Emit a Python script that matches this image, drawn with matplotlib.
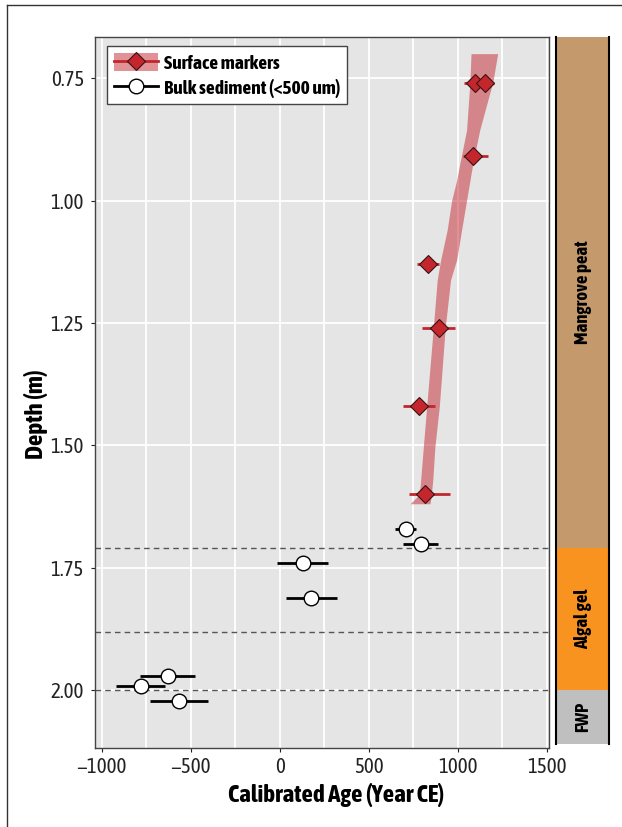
import matplotlib
matplotlib.use("Agg")
import matplotlib.pyplot as plt
from matplotlib import font_manager
from matplotlib.patches import Patch, Rectangle
from matplotlib.lines import Line2D
import numpy as np

# ---------------- data ----------------
# Surface markers (age, depth, error minus, error plus)
surf_age = [1097, 1153, 1088, 833, 893, 783, 818]
surf_depth = [0.759, 0.759, 0.909, 1.129, 1.261, 1.420, 1.600]
surf_err_lo = [62, 55, 60, 60, 92, 92, 92]
surf_err_hi = [55, 53, 84, 62, 92, 92, 137]

# Bulk sediment (<500 um)
bulk_age = [708, 792, 129, 178, -629, -781, -564]
bulk_depth = [1.671, 1.701, 1.740, 1.811, 1.971, 1.991, 2.021]
bulk_err = [58, 97, 143, 145, 155, 138, 163]

# Age-depth model ribbon
rib_depth = [0.700, 0.757, 0.856, 0.923, 0.959, 1.000, 1.060, 1.120, 1.162, 1.260, 1.420, 1.503, 1.571, 1.600, 1.619]
rib_lo = [1075, 1069, 1050, 1013, 994, 966, 941, 905, 885, 863, 826, 807, 792, 785, 732]
rib_hi = [1225, 1198, 1124, 1086, 1069, 1050, 1022, 995, 960, 930, 897, 872, 860, 852, 845]

# Horizontal dashed boundaries
boundaries = [1.71, 1.88, 2.00]

# Lithology units
units = ["Mangrove peat", "Algal gel", "FWP"]
unit_top = [0.665, 1.71, 2.00]
unit_bot = [1.71, 2.00, 2.11]
unit_colors = ["#c49a6c", "#f7931e", "#bfbfbf"]

x_ticks = [-1000, -500, 0, 500, 1000, 1500]
y_ticks = [0.75, 1.00, 1.25, 1.50, 1.75, 2.00]

# ---------------- fonts ----------------
names = {f.name for f in font_manager.fontManager.ttflist}
fam = "DejaVu Sans"
for cand in ["Asap Condensed", "Barlow Semi Condensed", "Cabin Condensed"]:
    if cand in names:
        fam = cand
        break
plt.rcParams["font.family"] = [fam, "DejaVu Sans"]

fig = plt.figure(figsize=(6.22, 8.27), dpi=100)
fig.patch.set_facecolor("white")

W, H = 622.0, 827.0
ax = fig.add_axes([95 / W, (H - 747.7) / H, (549.3 - 95) / W, (747.7 - 36.5) / H])
ax.set_facecolor("#e5e5e5")
ax.set_xlim(-1038, 1515)
ax.set_ylim(2.117, 0.665)

ax.set_xticks(x_ticks)
ax.set_xticklabels([("\u2212%d" % -v) if v < 0 else "%d" % v for v in x_ticks])
ax.set_xticks(np.arange(-750, 1500, 500), minor=True)
ax.set_yticks(y_ticks)
ax.set_yticklabels(["%.2f" % v for v in y_ticks])
ax.tick_params(axis="both", which="major", labelsize=15, colors="#222222",
               length=3, width=0.8, direction="out")
ax.tick_params(axis="y", which="major", pad=5)
ax.tick_params(axis="x", which="major", pad=4)
ax.tick_params(axis="x", which="minor", length=0)
ax.grid(True, which="major", color="white", lw=1.3)
ax.grid(True, which="minor", axis="x", color="white", lw=1.3)
ax.set_axisbelow(True)
for s in ax.spines.values():
    s.set_color("#444444")
    s.set_linewidth(1.0)

for b in boundaries:
    ax.axhline(b, color="#555555", lw=1.0, ls=(0, (4, 3)), zorder=2)

rib_color = "#c52631"
ax.fill_betweenx(rib_depth, rib_lo, rib_hi, color=rib_color, alpha=0.5, lw=0, zorder=3)

ax.errorbar(surf_age, surf_depth, xerr=[surf_err_lo, surf_err_hi], fmt="none",
            ecolor="#c0272d", elinewidth=2.0, capsize=0, zorder=4)
ax.plot(surf_age, surf_depth, ls="none", marker="D", ms=9.5, mfc="#c4262e",
        mec="#3a1212", mew=0.8, zorder=5)

ax.errorbar(bulk_age, bulk_depth, xerr=bulk_err, fmt="none",
            ecolor="black", elinewidth=2.0, capsize=0, zorder=4)
ax.plot(bulk_age, bulk_depth, ls="none", marker="o", ms=10.5, mfc="white",
        mec="black", mew=1.0, zorder=5)

ax.set_xlabel("Calibrated Age (Year CE)", fontsize=18, fontweight="bold")
ax.set_ylabel("Depth (m)", fontsize=18, fontweight="bold")
ax.xaxis.set_label_coords((336 - 95) / 454.3, (747.7 - 783) / 711.2)
ax.yaxis.set_label_coords((48 - 95) / 454.3, (747.7 - 414) / 711.2)

# legend
h1 = (Patch(facecolor=rib_color, alpha=0.5, lw=0),
      Line2D([], [], color="#c0272d", lw=2.0, marker="D", ms=9.5, mfc="#c4262e",
             mec="#3a1212", mew=0.8))
h2 = Line2D([], [], color="black", lw=2.0, marker="o", ms=10.5, mfc="white",
            mec="black", mew=1.0)
leg = ax.legend([h1, h2], ["Surface markers", "Bulk sediment (<500 um)"],
                loc="upper left", bbox_to_anchor=((106.7 - 95) / 454.3, (747.7 - 46) / 711.2),
                borderaxespad=0, fancybox=False, framealpha=1, edgecolor="#444444",
                prop={"weight": "bold", "size": 14}, handlelength=2.3, handleheight=1.1,
                handletextpad=0.3, borderpad=0.35, labelspacing=0.25)
leg.get_frame().set_linewidth(1.0)

# lithology strip
ax2 = fig.add_axes([556 / W, (H - 744) / H, (609.3 - 556) / W, (744 - 36.5) / H])
ax2.set_xlim(0, 1)
ax2.set_ylim(2.11, 0.665)
for name, t, b, c in zip(units, unit_top, unit_bot, unit_colors):
    ax2.add_patch(Rectangle((0, t), 1, b - t, facecolor=c, edgecolor="none"))
    ax2.text(0.5, (t + b) / 2, name, rotation=90, ha="center", va="center",
             fontsize=13.5, fontweight="bold", color="black")
ax2.set_xticks([])
ax2.set_yticks([])
for k in ("top", "bottom"):
    ax2.spines[k].set_visible(False)
for k in ("left", "right"):
    ax2.spines[k].set_linewidth(1.5)
    ax2.spines[k].set_color("black")

# outer frame (left and top)
fig.add_artist(Line2D([7.5 / W, 7.5 / W], [0, (H - 5) / H], color="#333333", lw=1.0))
fig.add_artist(Line2D([7.5 / W, 1.0], [(H - 5) / H, (H - 5) / H], color="#333333", lw=1.0))

fig.savefig("out.png", dpi=100, facecolor="white")
